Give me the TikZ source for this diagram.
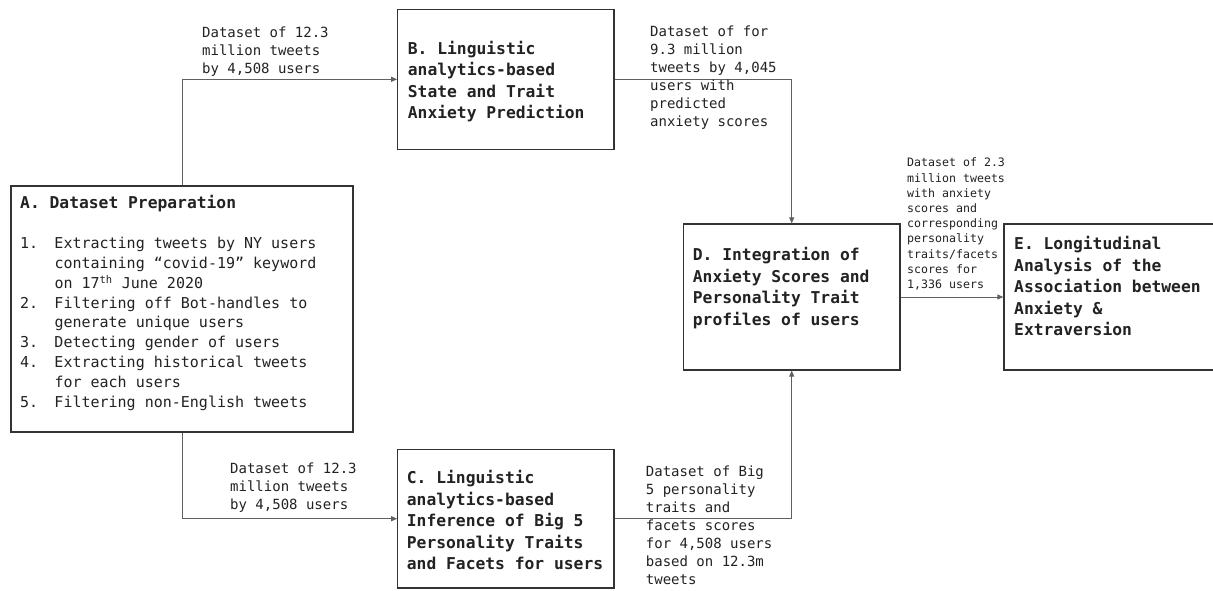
\documentclass[tikz,border=0pt]{standalone}
\usepackage{fontspec}
\newfontfamily\dmono{DejaVu Sans Mono}
\usetikzlibrary{arrows.meta}
\definecolor{txt}{HTML}{222222}
\definecolor{boxline}{HTML}{333333}
\definecolor{connline}{HTML}{606060}
\begin{document}
\begin{tikzpicture}[x=1pt,y=-1pt,
  box/.style={draw=boxline, line width=1.2pt, inner sep=0pt, fill=white},
  conn/.style={draw=connline, line width=0.9pt, -{Triangle[length=6pt,width=5pt]}},
  boxtxt/.style={inner sep=0pt, anchor=north west, align=left, text=txt,
    font={\dmono\bfseries\fontsize{16.3}{21.5}\selectfont}},
  listtxt/.style={inner sep=0pt, anchor=north west, align=left, text=txt,
    font={\dmono\fontsize{15}{19.8}\selectfont}},
  lbl/.style={inner sep=0pt, anchor=north west, align=left, text=txt,
    font={\dmono\fontsize{14}{18}\selectfont}},
  smalllbl/.style={inner sep=0pt, anchor=north west, align=left, text=txt,
    font={\dmono\fontsize{11.6}{15.2}\selectfont}}
]
\useasboundingbox[fill=white] (0,0) rectangle (1213,590);

% boxes
\node[box, minimum width=342pt, minimum height=246pt] (A) at (182,309) {};
\node[box, minimum width=216.3pt, minimum height=140pt] (B) at (505.9,79.3) {};
\node[box, minimum width=216.3pt, minimum height=138.7pt] (C) at (505.9,518.7) {};
\node[box, minimum width=216.7pt, minimum height=146pt] (D) at (791.7,297) {};
\node[box, minimum width=216.7pt, minimum height=146pt] (E) at (1112.3,297) {};

% box texts
\node[inner sep=0pt, anchor=base west, text=txt,
  font={\dmono\bfseries\fontsize{16.3}{21.5}\selectfont}] (tA) at (20,208.4) {A. Dataset Preparation};
\node[listtxt] (tAlist) at (20,234.7) {\strut\makebox[34.3pt][l]{1.}Extracting tweets by NY users\\
\hspace*{34.3pt}containing “covid-19” keyword\\
\hspace*{34.3pt}on 17\textsuperscript{th} June 2020\\
\makebox[34.3pt][l]{2.}Filtering off Bot-handles to\\
\hspace*{34.3pt}generate unique users\\
\makebox[34.3pt][l]{3.}Detecting gender of users\\
\makebox[34.3pt][l]{4.}Extracting historical tweets\\
\hspace*{34.3pt}for each users\\
\makebox[34.3pt][l]{5.}Filtering non-English tweets};
\node[boxtxt] (tB) at (407.7,38.95) {\strut B. Linguistic\\analytics-based\\State and Trait\\Anxiety Prediction};
\node[boxtxt] (tC) at (406.7,468.35) {\strut C. Linguistic\\analytics-based\\Inference of Big 5\\Personality Traits\\and Facets for users};
\node[boxtxt] (tD) at (692.7,245.65) {\strut D. Integration of\\Anxiety Scores and\\Personality Trait\\profiles of users};
\node[boxtxt] (tE) at (1014,234.65) {\strut E. Longitudinal\\Analysis of the\\Association between\\Anxiety \&\\Extraversion};

% connectors
\draw[conn] (A.north) |- (B.west);
\draw[conn] (B.east) -| (D.north);
\draw[conn] (A.south) |- (C.west);
\draw[conn] (C.east) -| (D.south);
\draw[conn] (D.east) -- (E.west);

% connector labels
\node[lbl] (l1) at (202,25) {\strut Dataset of 12.3\\million tweets\\by 4,508 users};
\node[lbl] (l2) at (650,24) {\strut Dataset of for\\9.3 million\\tweets by 4,045\\users with\\predicted\\anxiety scores};
\node[smalllbl] (l3) at (907,156.1) {\strut Dataset of 2.3\\million tweets\\with anxiety\\scores and\\corresponding\\personality\\traits/facets\\scores for\\1,336 users};
\node[lbl] (l4) at (230,461) {\strut Dataset of 12.3\\million tweets\\by 4,508 users};
\node[lbl] (l5) at (645.7,464) {\strut Dataset of Big\\5 personality\\traits and\\facets scores\\for 4,508 users\\based on 12.3m\\tweets};
\end{tikzpicture}
\end{document}
